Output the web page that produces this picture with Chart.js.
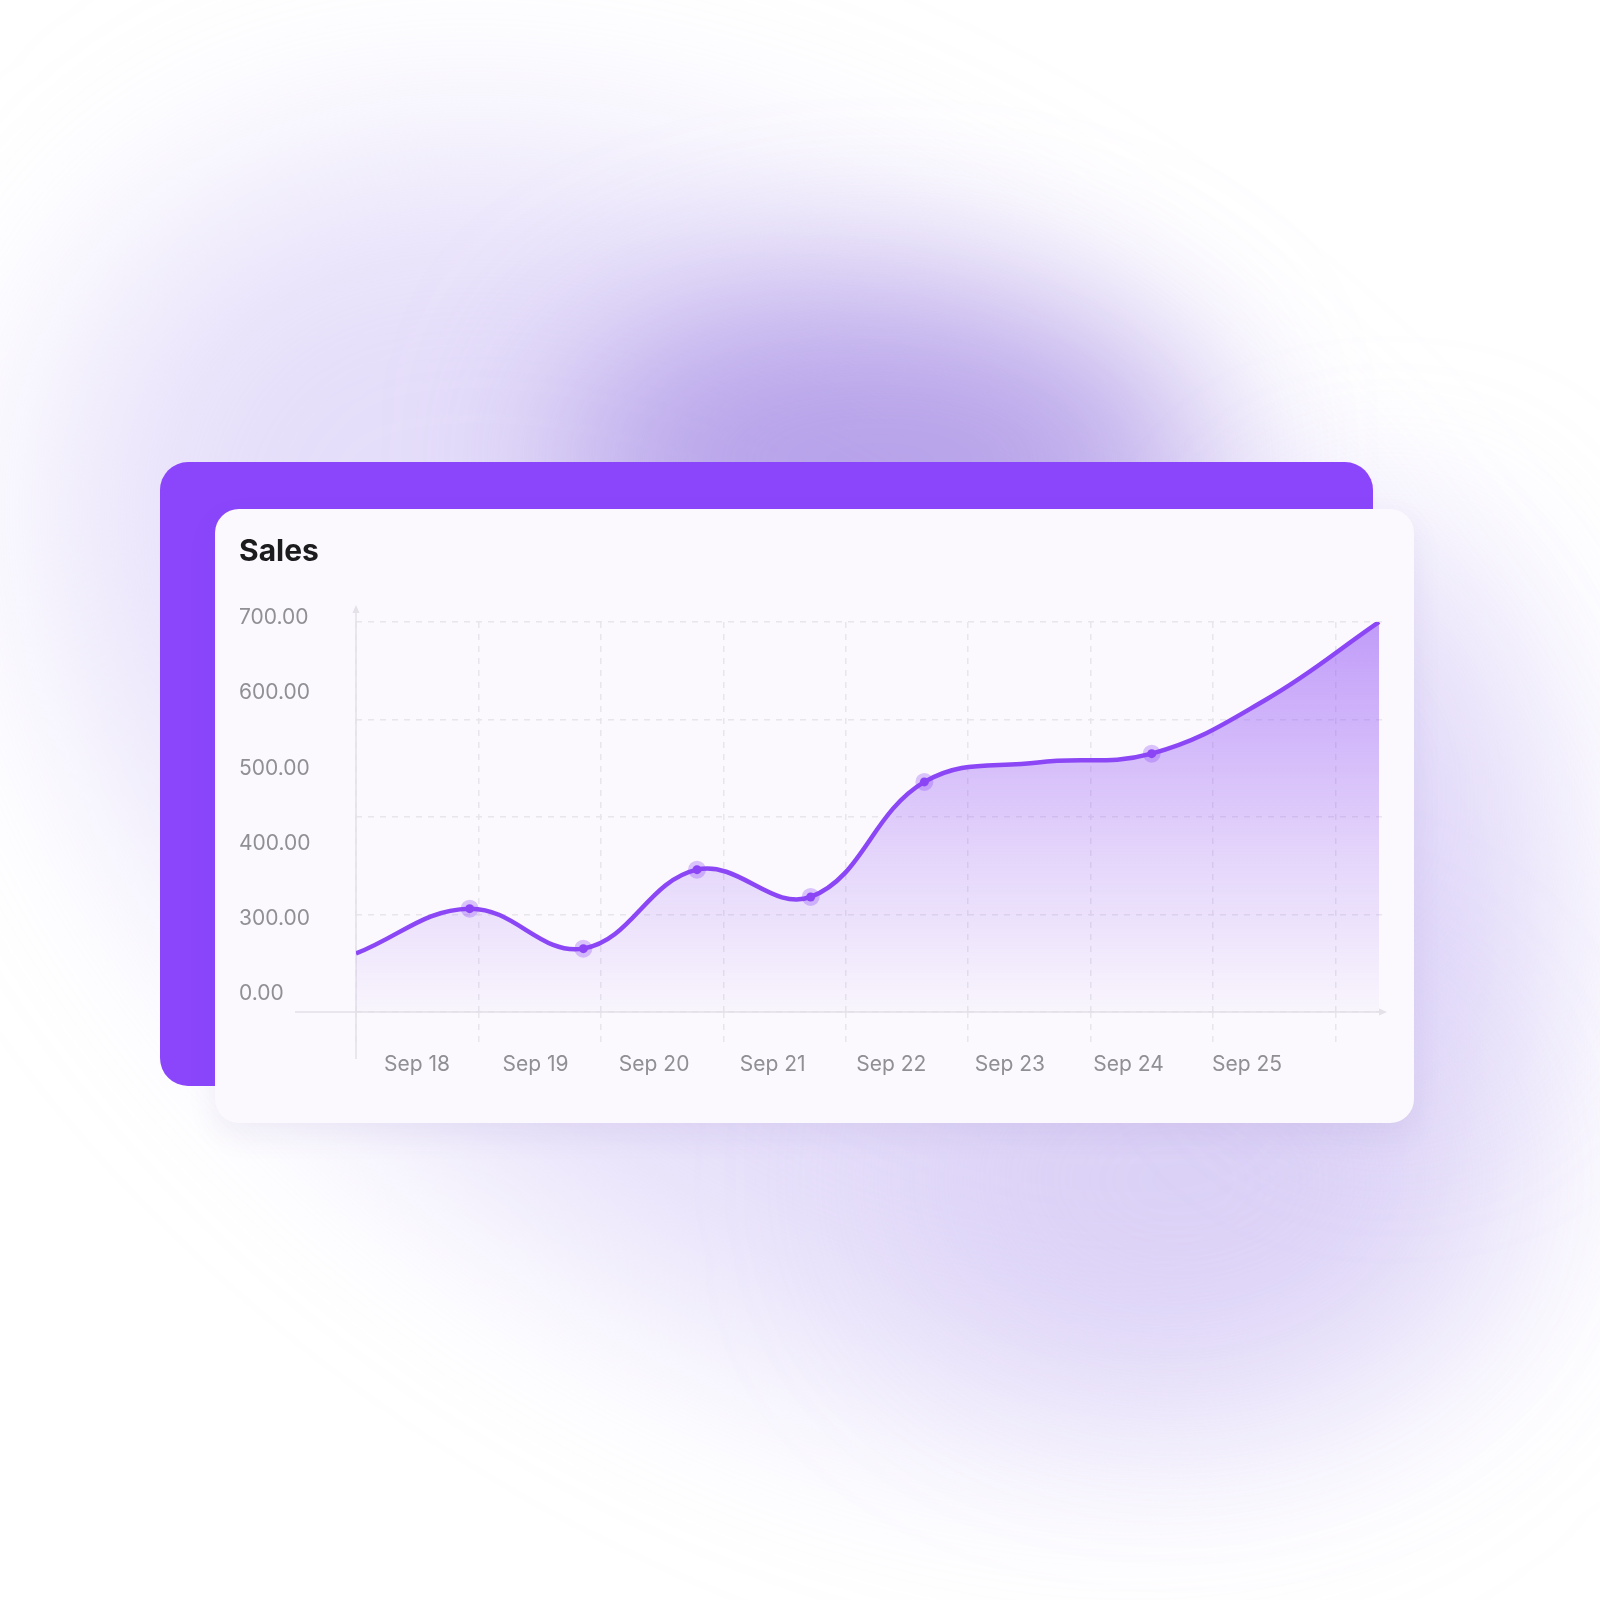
<!DOCTYPE html>
<html>
<head>
<meta charset="utf-8">
<script src="https://cdn.jsdelivr.net/npm/chart.js@4.4.1/dist/chart.umd.min.js"></script>
<style>
  html, body { margin: 0; padding: 0; background: #ffffff; }
  body { width: 1600px; height: 1600px; position: relative; overflow: hidden; }
  .glow { position: absolute; border-radius: 50%; }
  #glowBig { left: -40px; top: 290px; width: 1680px; height: 1000px; background: rgba(204, 190, 245, 0.5); filter: blur(110px); transform: rotate(36deg); }
  #glowCore { left: 560px; top: 290px; width: 640px; height: 340px; background: rgba(150, 120, 222, 0.6); filter: blur(85px); }
  #glowLow { left: 900px; top: 980px; width: 560px; height: 400px; background: rgba(200, 182, 242, 0.35); filter: blur(100px); }
  #glowRight { left: 1230px; top: 520px; width: 320px; height: 560px; background: rgba(205, 190, 245, 0.4); filter: blur(90px); }
  #back { position: absolute; left: 160px; top: 462px; width: 1213px; height: 624px; background: #8b46fb; border-radius: 28px; }
  #card { position: absolute; left: 215px; top: 509px; width: 1199px; height: 614px; background: #fbf9fd; border-radius: 24px; box-shadow: 0 12px 30px rgba(90, 60, 150, 0.08); }
  #salesChart { position: absolute; left: 239px; top: 525px; }
</style>
</head>
<body>
<div class="glow" id="glowBig"></div>
<div class="glow" id="glowCore"></div>
<div class="glow" id="glowLow"></div>
<div class="glow" id="glowRight"></div>
<div id="back"></div>
<div id="card"></div>
<canvas id="salesChart" width="1160" height="565"></canvas>
<script>
const title = 'Sales';
const xLabels = ['Sep 18', 'Sep 19', 'Sep 20', 'Sep 21', 'Sep 22', 'Sep 23', 'Sep 24', 'Sep 25'];
const yTickLabels = ['0.00', '300.00', '400.00', '500.00', '600.00', '700.00'];
const salesValues = [360, 406, 365, 446, 418, 536, 556, 565, 620, 700];
const showPoint = [false, true, true, true, true, true, false, true, false, false];

const purple = '#8b46f5';
const gridColor = '#e8e5ec';
const tickColor = '#8f8f94';

Chart.defaults.font.family = 'Inter, "Liberation Sans", sans-serif';

function fillGradient(context) {
  const chart = context.chart;
  const area = chart.chartArea;
  if (!area) return 'rgba(139,70,245,0.2)';
  const g = chart.ctx.createLinearGradient(0, area.top, 0, area.bottom);
  g.addColorStop(0, 'rgba(139,70,245,0.52)');
  g.addColorStop(0.6, 'rgba(139,70,245,0.2)');
  g.addColorStop(1, 'rgba(139,70,245,0.02)');
  return g;
}

function keepWhole(scale) {
  scale.ticks = scale.ticks.filter(t => Number.isInteger(t.value));
}

// axis lines with small arrow heads, drawn from the chart area
const axisArrows = {
  id: 'axisArrows',
  beforeDatasetsDraw(chart) {
    const { ctx, chartArea } = chart;
    const { left, right, top, bottom } = chartArea;
    ctx.save();
    ctx.strokeStyle = '#e4e1e8';
    ctx.fillStyle = '#e4e1e8';
    ctx.lineWidth = 1.5;
    ctx.beginPath();
    ctx.moveTo(left, top - 12);
    ctx.lineTo(left, bottom + 47);
    ctx.moveTo(left - 61, bottom);
    ctx.lineTo(right - 6, bottom);
    ctx.stroke();
    ctx.beginPath();
    ctx.moveTo(left, top - 17);
    ctx.lineTo(left - 3.5, top - 9);
    ctx.lineTo(left + 3.5, top - 9);
    ctx.closePath();
    ctx.fill();
    ctx.beginPath();
    ctx.moveTo(right, bottom);
    ctx.lineTo(right - 8, bottom - 3.5);
    ctx.lineTo(right - 8, bottom + 3.5);
    ctx.closePath();
    ctx.fill();
    ctx.restore();
  }
};

new Chart(document.getElementById('salesChart'), {
  type: 'line',
  data: {
    datasets: [{
      label: title,
      data: salesValues.map((v, i) => ({ x: i, y: v })),
      xAxisID: 'x',
      yAxisID: 'y',
      borderColor: purple,
      borderWidth: 4.5,
      tension: 0.4,
      fill: 'start',
      backgroundColor: fillGradient,
      pointRadius: showPoint.map(s => s ? 4.5 : 0),
      pointBorderWidth: 9,
      pointBackgroundColor: purple,
      pointBorderColor: 'rgba(139,70,245,0.3)'
    }]
  },
  options: {
    responsive: false,
    animation: false,
    layout: { padding: { left: 0, right: 12, top: 0, bottom: 0 } },
    plugins: {
      legend: { display: false },
      tooltip: { enabled: false },
      title: {
        display: true,
        text: title,
        align: 'start',
        color: '#1c1c1e',
        font: { size: 30, weight: 'bold' },
        padding: { top: 9, bottom: 52 }
      }
    },
    scales: {
      x: { type: 'linear', display: false, min: 0, max: 9.07 },
      y: {
        type: 'linear', position: 'left', min: 300, max: 700,
        ticks: { display: false, stepSize: 100 },
        grid: { color: gridColor, lineWidth: 1.5, drawTicks: false },
        border: { display: false, dash: [6, 6] },
        afterFit(scale) { scale.width = 0; }
      },
      yLabels: {
        type: 'linear', position: 'left', min: -0.19, max: 5,
        grid: { display: false, drawTicks: false },
        border: { display: false },
        ticks: {
          stepSize: 1,
          includeBounds: false,
          color: tickColor,
          font: { size: 21 },
          crossAlign: 'far',
          labelOffset: -4,
          callback: v => yTickLabels[v]
        },
        afterBuildTicks: keepWhole,
        afterFit(scale) { scale.width = 117; }
      },
      xGrid: {
        type: 'linear', position: 'bottom', weight: 0, min: 0, max: 8.42,
        ticks: { display: false, stepSize: 1, includeBounds: false },
        grid: { color: gridColor, lineWidth: 1.5, tickLength: 31, tickColor: gridColor, tickWidth: 1.5, tickBorderDash: [6, 6] },
        border: { display: false, dash: [6, 6] },
        afterBuildTicks: keepWhole,
        afterFit(scale) { scale.height = 0; }
      },
      xLabels: {
        type: 'linear', position: 'bottom', weight: 1, min: -0.514, max: 8.18,
        grid: { display: false, drawTicks: false },
        border: { display: false },
        ticks: {
          stepSize: 1,
          includeBounds: false,
          color: tickColor,
          font: { size: 21 },
          padding: 40,
          maxRotation: 0,
          autoSkip: false,
          callback: v => xLabels[v]
        },
        afterBuildTicks(scale) { scale.ticks = scale.ticks.filter(t => Number.isInteger(t.value) && t.value < xLabels.length); },
        afterFit(scale) { scale.height = 78; }
      }
    }
  },
  plugins: [axisArrows]
});
</script>
</body>
</html>
